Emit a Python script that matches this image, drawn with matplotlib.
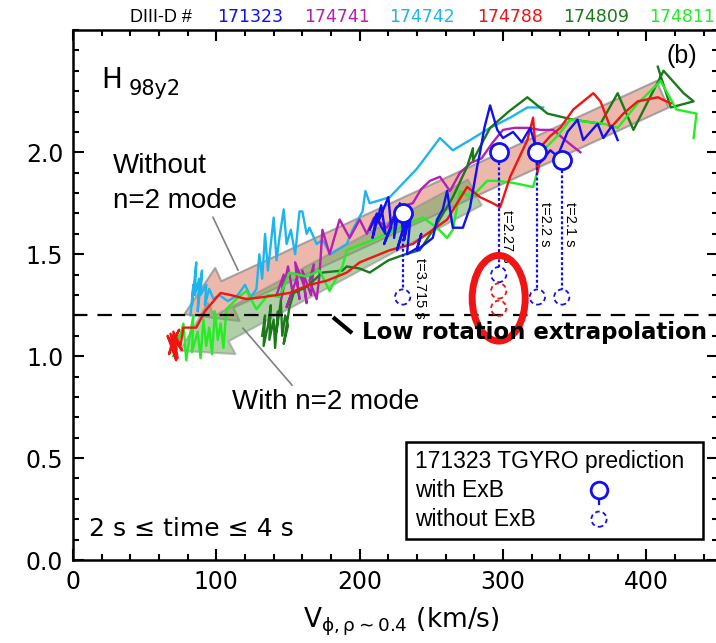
import matplotlib as mpl
mpl.use("Agg")
import matplotlib.pyplot as plt
from matplotlib import font_manager
from matplotlib.patches import FancyArrowPatch, Ellipse, Rectangle

mpl.rcParams.update({
    "font.family": "DejaVu Sans",
    "mathtext.fontset": "dejavusans",
    "xtick.direction": "in",
    "ytick.direction": "in",
})

names = {f.name for f in font_manager.fontManager.ttflist}
helv = "Liberation Sans" if "Liberation Sans" in names else "DejaVu Sans"

# shot traces, H98y2 vs rotation velocity (km/s)
shots = ["171323", "174741", "174742", "174788", "174809", "174811"]
shot_colors = ["#1010F0", "#B420B4", "#20B4EE", "#F01414", "#1A7A1A", "#22EE22"]

v_171323 = [207, 212, 209, 215, 218, 213, 220, 222, 217, 225, 224, 228, 230, 226, 233, 231, 236, 233,
            240, 243, 240, 251, 254, 258, 261, 265, 272, 277, 282, 284, 287, 291, 296, 300, 307, 313,
            319, 326, 333, 338, 345, 352, 356, 366, 370, 376, 380]
h_171323 = [1.62, 1.70, 1.58, 1.74, 1.60, 1.66, 1.78, 1.63, 1.55, 1.70, 1.58, 1.75, 1.62, 1.52, 1.67, 1.57,
            1.72, 1.50, 1.53, 1.60, 1.52, 1.58, 1.67, 1.72, 1.81, 1.63, 1.63, 1.73, 1.93, 2.00, 2.12, 2.23,
            2.11, 2.07, 2.10, 2.05, 2.12, 1.95, 2.01, 1.98, 2.10, 2.16, 2.06, 2.14, 2.07, 2.13, 2.06]

v_174741 = [142, 147, 145, 150, 153, 149, 156, 158, 155, 161, 163, 160, 166, 168, 165, 170, 172, 174,
            179, 186, 193, 200, 205, 210, 219, 225, 232, 237, 243, 249, 256, 263, 270, 278, 285, 293,
            300, 308, 317, 326, 335, 345, 354]
h_174741 = [1.30, 1.40, 1.27, 1.44, 1.32, 1.24, 1.38, 1.28, 1.46, 1.35, 1.26, 1.42, 1.30, 1.45, 1.37, 1.28,
            1.40, 1.62, 1.50, 1.67, 1.58, 1.67, 1.60, 1.68, 1.63, 1.70, 1.74, 1.75, 1.82, 1.86, 1.88, 1.81,
            1.90, 1.95, 1.97, 2.05, 2.11, 2.12, 2.12, 2.11, 2.11, 2.05, 2.00]

v_174742 = [82, 84, 83, 86, 85, 88, 87, 90, 89, 93, 92, 95, 98, 102, 108, 115, 120, 124, 128, 130, 132,
            134, 136, 138, 140, 142, 144, 147, 149, 152, 155, 158, 160, 163, 165, 170, 174, 180, 184, 191,
            195, 202, 204, 207, 221, 240, 256, 265, 277, 291, 305, 317, 328]
h_174742 = [1.20, 1.35, 1.25, 1.46, 1.30, 1.38, 1.22, 1.42, 1.30, 1.35, 1.25, 1.33, 1.28, 1.30, 1.27, 1.30,
            1.35, 1.29, 1.33, 1.50, 1.38, 1.60, 1.42, 1.55, 1.68, 1.47, 1.58, 1.72, 1.55, 1.62, 1.50, 1.71,
            1.71, 1.60, 1.63, 1.55, 1.57, 1.50, 1.52, 1.55, 1.62, 1.71, 1.81, 1.75, 1.78, 1.92, 2.07, 2.01,
            2.06, 2.12, 2.17, 2.22, 2.22]

v_174788 = [417, 408, 394, 384, 375, 368, 363, 349, 340, 333, 328, 324, 321, 317, 305, 298, 293, 284,
            275, 261, 251, 237, 221, 200, 191, 177, 165, 151, 142, 133, 121, 110, 103, 98, 92, 86, 77,
            75, 70, 73, 68, 71, 66, 72, 69, 74, 67, 70, 76, 68, 72]
h_174788 = [2.24, 2.27, 2.25, 2.19, 2.12, 2.25, 2.29, 2.21, 2.12, 2.08, 2.04, 1.90, 2.17, 2.06, 1.88, 1.73,
            1.75, 1.78, 1.83, 1.67, 1.62, 1.55, 1.52, 1.46, 1.41, 1.37, 1.35, 1.31, 1.30, 1.29, 1.28, 1.30,
            1.31, 1.27, 1.22, 1.14, 1.14, 1.05, 1.12, 0.99, 1.08, 1.02, 1.10, 0.98, 1.06, 1.13, 1.01, 1.09,
            1.03, 1.11, 1.00]

v_174809 = [132, 134, 133, 136, 138, 137, 140, 141, 143, 142, 145, 146, 148, 150, 147, 151, 154, 163,
            174, 188, 191, 200, 207, 220, 232, 242, 254, 265, 275, 279, 279, 291, 304, 317, 331, 349,
            368, 380, 391, 412, 426, 433, 417, 408]
h_174809 = [1.10, 1.20, 1.05, 1.15, 1.25, 1.08, 1.18, 1.04, 1.22, 1.12, 1.27, 1.10, 1.20, 1.15, 1.06, 1.24,
            1.31, 1.34, 1.41, 1.42, 1.44, 1.43, 1.41, 1.47, 1.50, 1.52, 1.65, 1.78, 1.93, 2.02, 1.96, 2.12,
            2.20, 2.27, 2.19, 2.16, 2.14, 2.29, 2.11, 2.40, 2.29, 2.25, 2.22, 2.42]

v_174811 = [70, 74, 72, 77, 79, 81, 84, 83, 87, 89, 91, 93, 95, 97, 99, 101, 103, 105, 107, 114, 121,
            128, 136, 144, 151, 163, 172, 179, 188, 191, 209, 225, 244, 254, 261, 265, 270, 278, 289,
            296, 307, 321, 328, 338, 347, 370, 380, 394, 410, 421, 435, 433]
h_174811 = [1.00, 1.10, 1.03, 1.16, 0.98, 1.08, 1.20, 1.02, 1.12, 0.99, 1.18, 1.05, 1.14, 1.01, 1.22, 1.08,
            1.16, 1.04, 1.23, 1.28, 1.32, 1.23, 1.30, 1.29, 1.41, 1.39, 1.42, 1.32, 1.44, 1.52, 1.57, 1.62,
            1.68, 1.63, 1.58, 1.62, 1.81, 1.78, 1.86, 1.86, 1.85, 1.83, 2.01, 2.08, 2.16, 2.14, 2.12, 2.24,
            2.35, 2.21, 2.19, 2.07]

traces = [(v_171323, h_171323), (v_174741, h_174741), (v_174742, h_174742),
          (v_174788, h_174788), (v_174809, h_174809), (v_174811, h_174811)]
draw_order = [2, 1, 4, 5, 3, 0]

# TGYRO predictions for 171323
tg_v = [230, 297, 324, 341]
tg_with = [1.70, 2.00, 2.00, 1.96]
tg_without = [1.29, 1.40, 1.29, 1.29]
tg_times = ["t=3.715 s", "t=2.27 s", "t=2.2 s", "t=2.1 s"]
red_v = [297, 297]
red_without = [1.32, 1.235]

fig = plt.figure(figsize=(7.16, 6.43), dpi=100)
ax = fig.add_axes([73 / 716, 83 / 643, 645 / 716, 530 / 643])
ax.set_xlim(0, 450)
ax.set_ylim(0, 2.6)

# broad trend arrows
pink = FancyArrowPatch((413, 2.29), (76, 1.20), arrowstyle="simple,head_length=1.7,head_width=2.1,tail_width=1.05",
                       mutation_scale=20, fc="#E8A090", ec="#8C8C8C", lw=1.5, alpha=0.75, zorder=1)
green = FancyArrowPatch((282, 1.81), (73, 1.02), arrowstyle="simple,head_length=1.7,head_width=2.1,tail_width=1.05",
                        mutation_scale=20, fc="#70A860", ec="#8C8C8C", lw=1.5, alpha=0.55, zorder=1.1)
ax.add_patch(pink)
ax.add_patch(green)

for i in draw_order:
    v, h = traces[i]
    ax.plot(v, h, color=shot_colors[i], lw=1.7, zorder=2)

ax.axhline(1.2, color="black", lw=1.6, ls=(0, (6.5, 4.5)), zorder=3)

# predictions
for v, top, bot in zip(tg_v, tg_with, tg_without):
    ax.plot([v, v], [top, bot], color="#1010F0", lw=1.6, ls=(0, (1.3, 1.0)), zorder=4)
ax.plot(tg_v, tg_with, "o", ms=13, mfc="white", mec="#1010F0", mew=2, zorder=5)
ax.scatter(tg_v, tg_without, s=120, facecolors="white", edgecolors="#1010F0",
           linewidths=1.3, linestyles=(0, (2.5, 1.8)), zorder=5)
ax.scatter(red_v, red_without, s=120, facecolors="none", edgecolors="#F01414",
           linewidths=1.3, linestyles=(0, (2.5, 1.8)), zorder=5)
for v, t in zip(tg_v, tg_times):
    ax.text(v + (12 if v == 230 else 5.5), 1.755 if v > 300 else (1.716 if v > 290 else 1.48), t,
            rotation=-90, ha="center", va="top", fontsize=10.5, family=helv, zorder=4)
ax.add_patch(Ellipse((297, 1.284), 37, 0.42, fill=False, ec="#F01414", lw=5, zorder=6))

# annotations
fig.text(101 / 716, 1 - 88 / 643, "H", fontsize=20, va="baseline")
fig.text(129 / 716, 1 - 95 / 643, "98y2", fontsize=15, va="baseline")
fig.text(682 / 716, 1 - 56 / 643, "(b)", fontsize=18, ha="center", va="center", family=helv)
fig.text(113 / 716, 1 - 166 / 643, "Without", fontsize=20, va="center", family=helv)
fig.text(113 / 716, 1 - 201 / 643, "n=2 mode", fontsize=20, va="center", family=helv)
fig.text(232 / 716, 1 - 402 / 643, "With n=2 mode", fontsize=20, va="center", family=helv)
ax.plot([97.7, 115.1], [1.681, 1.422], color="#808080", lw=1.2, zorder=2)
ax.plot([118.6, 152.8], [1.137, 0.858], color="#808080", lw=1.2, zorder=2)
ax.plot([181.4, 194.7], [1.191, 1.113], color="black", lw=3, solid_capstyle="butt", zorder=3)
fig.text(362 / 716, 1 - 333 / 643, "Low rotation extrapolation", fontsize=16.5, fontweight="bold",
         va="center")
ax.text(0.025, 0.058, "2 s \u2264 time \u2264 4 s", transform=ax.transAxes, fontsize=18, va="center")

# legend box
ax.add_patch(Rectangle((0.516, 0.0396), 0.461, 0.183, transform=ax.transAxes, fill=False,
                       ec="black", lw=1.8, zorder=6))
ax.text(0.530, 0.185, "171323 TGYRO prediction", transform=ax.transAxes, fontsize=16.5,
        va="center", family=helv, zorder=7)
ax.text(0.530, 0.132, "with ExB", transform=ax.transAxes, fontsize=16.5, va="center", family=helv, zorder=7)
ax.text(0.530, 0.077, "without ExB", transform=ax.transAxes, fontsize=16.5, va="center", family=helv, zorder=7)
ax.plot([0.8155, 0.8155], [0.132, 0.106], transform=ax.transAxes, color="#1010F0", lw=1.6, zorder=7)
ax.plot([0.8155], [0.132], "o", transform=ax.transAxes, ms=12, mfc="white", mec="#1010F0", mew=2, zorder=8)
ax.scatter([0.8155], [0.077], transform=ax.transAxes, s=120, facecolors="white", edgecolors="#1010F0",
           linewidths=1.3, linestyles=(0, (2.5, 1.8)), zorder=8)

# header
fig.text(130 / 716, 1 - 17 / 643, "DIII-D #", fontsize=13, va="center", family=helv)
for left, s, c in zip([217, 304, 389, 477, 563, 649], shots, shot_colors):
    fig.text(left / 716, 1 - 17 / 643, s, fontsize=12.5, va="center", color=c, family="DejaVu Sans")

# axes
ax.set_xticks([0, 100, 200, 300, 400])
ax.set_xticks(range(0, 451, 20), minor=True)
ax.set_yticks([0.0, 0.5, 1.0, 1.5, 2.0])
ax.set_yticks([i / 10 for i in range(27)], minor=True)
ax.set_yticklabels(["0.0", "0.5", "1.0", "1.5", "2.0"])
ax.tick_params(which="both", top=True, right=True, width=1.5, labelsize=17)
ax.tick_params(which="major", length=8, pad=7)
ax.tick_params(which="minor", length=4)
for sp in ax.spines.values():
    sp.set_linewidth(1.8)
fig.text(303 / 716, 1 - 627 / 643, r"V$_{\mathregular{\phi,\rho\sim0.4}}$ (km/s)", fontsize=19, va="baseline")

fig.savefig("out.png", dpi=100)
